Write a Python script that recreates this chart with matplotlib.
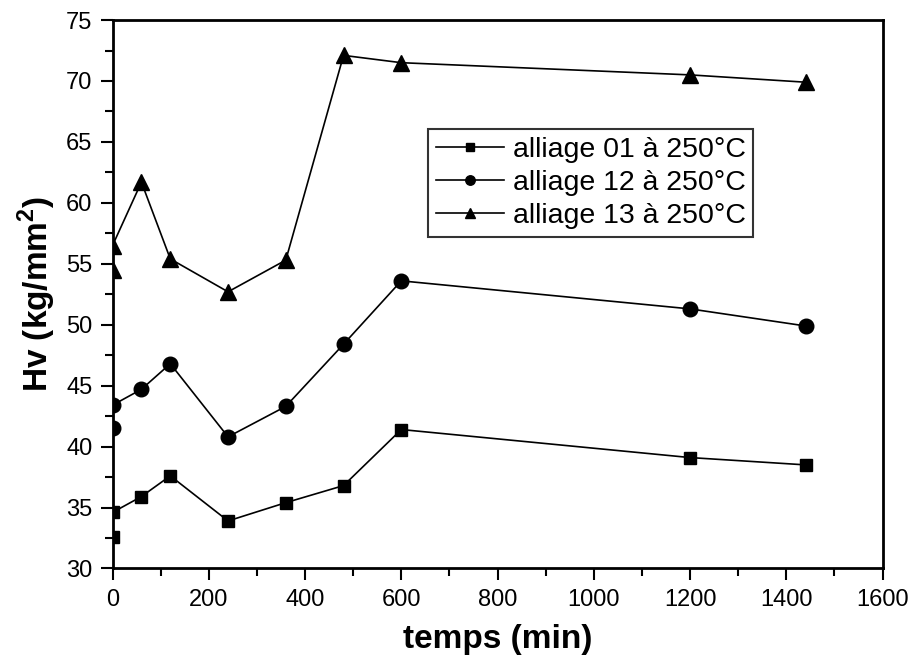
import matplotlib
matplotlib.use("Agg")
import matplotlib.pyplot as plt
from matplotlib.ticker import MultipleLocator

# temps (min) and hardness values
temps = [0, 0, 60, 120, 240, 360, 480, 600, 1200, 1440]
alliage_01 = [32.6, 34.6, 35.9, 37.6, 33.9, 35.4, 36.8, 41.4, 39.1, 38.5]
alliage_12 = [41.5, 43.4, 44.7, 46.8, 40.8, 43.3, 48.4, 53.6, 51.3, 49.9]
alliage_13 = [54.5, 56.5, 61.7, 55.4, 52.7, 55.3, 72.1, 71.5, 70.5, 69.9]
labels = ["alliage 01 à 250°C", "alliage 12 à 250°C", "alliage 13 à 250°C"]


def main():
    plt.rcParams['font.family'] = ['Liberation Sans', 'DejaVu Sans']
    plt.rcParams['mathtext.fontset'] = 'custom'
    plt.rcParams['mathtext.rm'] = 'Liberation Sans:bold'
    plt.rcParams['mathtext.bf'] = 'Liberation Sans:bold'

    fig = plt.figure(figsize=(9.15, 6.68), dpi=100)
    ax = fig.add_axes([0.123, 0.149, 0.8415, 0.821])

    ax.plot(temps, alliage_01, '-s', color='black', lw=1.2, markersize=9, label=labels[0])
    ax.plot(temps, alliage_12, '-o', color='black', lw=1.2, markersize=10.5, label=labels[1])
    ax.plot(temps, alliage_13, '-^', color='black', lw=1.2, markersize=12, label=labels[2])

    ax.set_xlim(0, 1600)
    ax.set_ylim(30, 75)
    ax.xaxis.set_major_locator(MultipleLocator(200))
    ax.xaxis.set_minor_locator(MultipleLocator(100))
    ax.yaxis.set_major_locator(MultipleLocator(5))
    ax.yaxis.set_minor_locator(MultipleLocator(2.5))
    ax.tick_params(which='major', direction='out', length=8.5, width=1.5, labelsize=17, pad=6)
    ax.tick_params(which='minor', direction='out', length=5.5, width=1.5)
    for sp in ax.spines.values():
        sp.set_linewidth(2.0)

    ax.set_xlabel("temps (min)", fontsize=24, fontweight='bold', labelpad=10)
    ax.set_ylabel(r"Hv (kg/mm$^{\mathbf{2}}$)", fontsize=24, fontweight='bold', labelpad=6)

    leg = ax.legend(loc='upper left', bbox_to_anchor=(0.41, 0.801), borderaxespad=0,
                    fontsize=20.5, frameon=True, fancybox=False, edgecolor='black',
                    handlelength=2.4, handletextpad=0.3, markerscale=0.65,
                    labelspacing=0.26, borderpad=0.26)
    leg.get_frame().set_linewidth(1.5)

    fig.savefig("out.png", dpi=100)


if __name__ == '__main__':
    main()
